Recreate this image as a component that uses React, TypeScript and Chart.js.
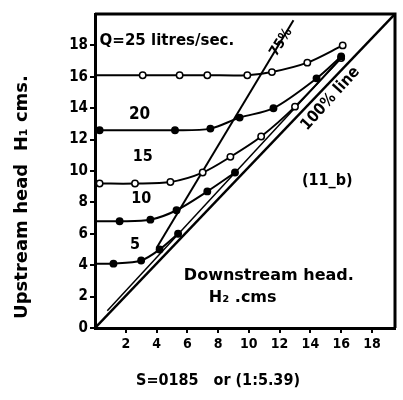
import React, { useEffect, useRef } from "react";
import { Chart, registerables } from "chart.js";

Chart.register(...registerables);

// Q = 25 litres/sec
const q25X = [0, 3.1, 5.5, 7.3, 9.9, 11.5, 13.8, 16.1];
const q25Y = [16.1, 16.1, 16.1, 16.1, 16.1, 16.3, 16.9, 18.0];
// Q = 20
const q20X = [0, 0.3, 5.2, 7.5, 9.4, 11.6, 14.4, 16.0];
const q20Y = [12.6, 12.6, 12.6, 12.7, 13.4, 14.0, 15.9, 17.3];
// Q = 15
const q15X = [0, 0.3, 2.6, 4.9, 7.0, 8.8, 10.8, 13.0, 16.0];
const q15Y = [9.2, 9.2, 9.2, 9.3, 9.9, 10.9, 12.2, 14.1, 17.2];
// Q = 10
const q10X = [0, 1.6, 3.6, 5.3, 7.3, 9.1];
const q10Y = [6.8, 6.8, 6.9, 7.5, 8.7, 9.9];
// Q = 5
const q5X = [0, 1.2, 3.0, 4.2, 5.4];
const q5Y = [4.1, 4.1, 4.3, 5.0, 6.0];
// reference lines
const line100X = [0, 19.5];
const line100Y = [0, 20];
const line75X = [4.0, 12.9];
const line75Y = [5.1, 19.6];
const nearX = [0.8, 16.0];
const nearY = [1.1, 17.2];

const yTicks = [0, 2, 4, 6, 8, 10, 12, 14, 16, 18];
const xTicks = [2, 4, 6, 8, 10, 12, 14, 16, 18];

const pts = (xs: number[], ys: number[]) => xs.map((x, i) => ({ x, y: ys[i] }));

const COND = "'DejaVu Sans Condensed', 'DejaVu Sans', sans-serif";
const WIDE = "'DejaVu Sans', sans-serif";

const labelsPlugin = {
  id: "labels",
  afterDraw(chart: any) {
    const { ctx, chartArea, scales } = chart;
    const xs = scales.x;
    const ys = scales.y;
    ctx.save();
    // frame top & right
    ctx.strokeStyle = "#000";
    ctx.lineWidth = 3;
    ctx.beginPath();
    ctx.moveTo(chartArea.left, chartArea.top);
    ctx.lineTo(chartArea.right, chartArea.top);
    ctx.lineTo(chartArea.right, chartArea.bottom);
    ctx.stroke();

    ctx.fillStyle = "#000";
    const txt = (s: string, x: number, y: number, size: number, rot = 0, align: CanvasTextAlign = "center", fam = COND) => {
      ctx.save();
      ctx.translate(xs.getPixelForValue(x), ys.getPixelForValue(y));
      ctx.rotate((rot * Math.PI) / 180);
      ctx.font = `bold ${size}px ${fam}`;
      ctx.textAlign = align;
      ctx.textBaseline = "middle";
      ctx.fillText(s, 0, 0);
      ctx.restore();
    };
    txt("Q=25 litres/sec.", 0.3, 18.3, 15, 0, "left", WIDE);
    txt("20", 2.9, 13.6, 17);
    txt("15", 3.1, 10.9, 16);
    txt("10", 3.0, 8.2, 16);
    txt("5", 2.6, 5.3, 16);
    txt("75%", 12.1, 18.2, 14, -58);
    txt("100% line", 15.3, 14.6, 16, -48);
    txt("(11_b)", 15.1, 9.4, 16);
    txt("Downstream head.", 11.3, 3.3, 16, 0, "center", WIDE);
    txt("H\u2082 .cms", 9.6, 1.9, 16, 0, "center", WIDE);

    // axis titles
    ctx.save();
    ctx.translate(22, 197);
    ctx.rotate(-Math.PI / 2);
    ctx.font = `bold 18px ${WIDE}`;
    ctx.textAlign = "center";
    ctx.textBaseline = "middle";
    ctx.fillText("Upstream head  H\u2081 cms.", 0, 0);
    ctx.restore();

    ctx.font = `bold 16px ${COND}`;
    ctx.textAlign = "center";
    ctx.textBaseline = "middle";
    ctx.fillText("S=0185   or (1:5.39)", 218, 381);
    ctx.restore();
  },
};

export default function App() {
  const ref = useRef<HTMLCanvasElement | null>(null);
  useEffect(() => {
    if (!ref.current) return;
    const curve = (label: string, xs: number[], ys: number[], hollow: boolean) => ({
      label,
      data: pts(xs, ys),
      showLine: true,
      borderColor: "#000",
      borderWidth: 2,
      pointRadius: xs.map((x) => (x === 0 ? 0 : 3.2)),
      pointBackgroundColor: hollow ? "#fff" : "#000",
      pointBorderColor: "#000",
      pointBorderWidth: 1.5,
      tension: 0.3,
    });
    const straight = (label: string, xs: number[], ys: number[], w: number) => ({
      label,
      data: pts(xs, ys),
      showLine: true,
      borderColor: "#000",
      borderWidth: w,
      pointRadius: 0,
    });
    const chart = new Chart(ref.current, {
      type: "scatter",
      data: {
        datasets: [
          curve("Q=25", q25X, q25Y, true),
          curve("Q=20", q20X, q20Y, false),
          curve("Q=15", q15X, q15Y, true),
          curve("Q=10", q10X, q10Y, false),
          curve("Q=5", q5X, q5Y, false),
          straight("100% line", line100X, line100Y, 2.5),
          straight("75%", line75X, line75Y, 2),
          straight("near", nearX, nearY, 1.5),
        ] as any,
      },
      options: {
        animation: false,
        responsive: false,
        maintainAspectRatio: false,
        layout: { padding: { top: 14, right: 8, left: 0, bottom: 0 } },
        plugins: { legend: { display: false }, tooltip: { enabled: false } },
        scales: {
          x: {
            type: "linear",
            min: 0,
            max: 19.5,
            afterFit: (s: any) => {
              s.height = 72;
            },
            afterBuildTicks: (s: any) => {
              s.ticks = xTicks.map((v) => ({ value: v }));
            },
            border: { color: "#000", width: 3 },
            grid: { drawOnChartArea: false, drawTicks: true, tickLength: 5, color: "#000", lineWidth: 2 },
            ticks: {
              color: "#000",
              padding: 3,
              maxRotation: 0,
              autoSkip: false,
              font: { family: COND, size: 14, weight: "bold" },
            },
            title: { display: false },
          },
          y: {
            type: "linear",
            min: 0,
            max: 20,
            afterFit: (s: any) => {
              s.width = 95;
            },
            afterBuildTicks: (s: any) => {
              s.ticks = yTicks.map((v) => ({ value: v }));
            },
            border: { color: "#000", width: 3 },
            grid: { drawOnChartArea: false, drawTicks: true, tickLength: 5, color: "#000", lineWidth: 2 },
            ticks: {
              color: "#000",
              padding: 2,
              autoSkip: false,
              font: { family: COND, size: 15, weight: "bold" },
            },
            title: { display: false },
          },
        },
      } as any,
      plugins: [labelsPlugin],
    });
    return () => chart.destroy();
  }, []);
  return (
    <div style={{ position: "fixed", left: 0, top: 0, width: 403, height: 400, background: "#fff" }}>
      <canvas ref={ref} width={403} height={400} style={{ width: 403, height: 400 }} />
    </div>
  );
}
